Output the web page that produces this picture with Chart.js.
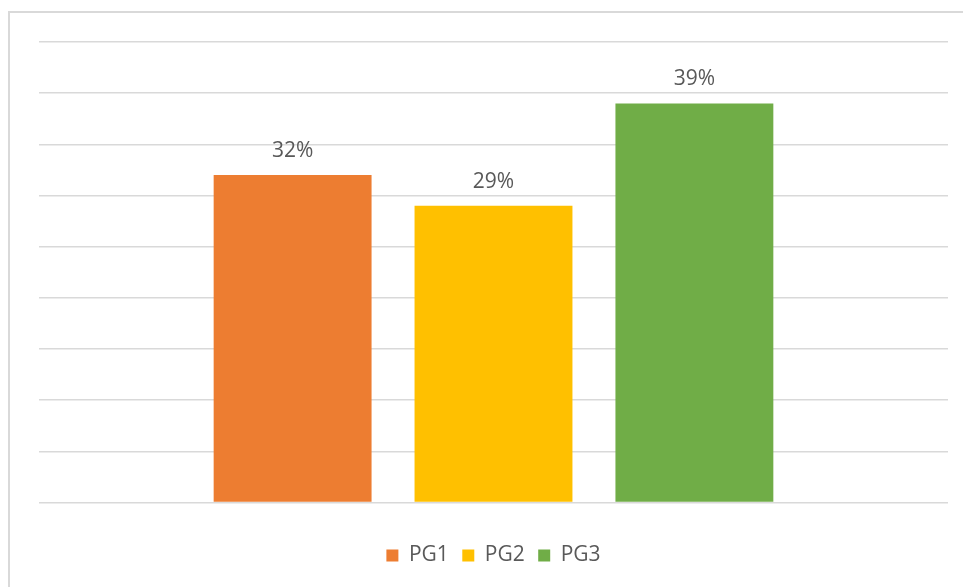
<!DOCTYPE html>
<html>
<head>
<meta charset="utf-8">
<script src="https://cdn.jsdelivr.net/npm/chart.js@4.4.1/dist/chart.umd.min.js"></script>
<style>
  html, body { margin: 0; padding: 0; background: #fff; overflow: hidden; }
  #marco { position: absolute; left: 8px; top: 11px; width: 1000px; height: 640px; border: 2px solid #d9d9d9; box-sizing: border-box; }
  #wrap { position: absolute; left: 0; top: 0; width: 963px; height: 587px; }
</style>
</head>
<body>
<div id="marco"></div>
<div id="wrap"><canvas id="grafico"></canvas></div>
<script>
// datos del grafico
const categorias = [''];
const series = ['PG1', 'PG2', 'PG3'];
const valores = [0.32, 0.29, 0.39];
const colores = ['#ED7D31', '#FFC000', '#70AD47'];
const ejeMax = 0.45;
const ejePaso = 0.05;

const fuente = "'Open Sans', 'DejaVu Sans', sans-serif";

// etiqueta de porcentaje encima de cada barra
const etiquetas = {
  id: 'etiquetas',
  afterDatasetsDraw(chart) {
    const ctx = chart.ctx;
    ctx.save();
    ctx.font = '21px ' + fuente;
    ctx.fillStyle = '#595959';
    ctx.textAlign = 'center';
    ctx.textBaseline = 'alphabetic';
    chart.data.datasets.forEach(function(ds, i) {
      chart.getDatasetMeta(i).data.forEach(function(bar, j) {
        const txt = Math.round(ds.data[j] * 100) + '%';
        ctx.fillText(txt, bar.x, bar.y - 18);
      });
    });
    ctx.restore();
  }
};

new Chart(document.getElementById('grafico'), {
  type: 'bar',
  data: {
    labels: categorias,
    datasets: series.map(function(s, i) {
      return { label: s, data: [valores[i]], backgroundColor: colores[i], categoryPercentage: 0.663, barPercentage: 0.786 };
    })
  },
  options: {
    responsive: true,
    maintainAspectRatio: false,
    animation: false,
    layout: { padding: { left: 39, right: 15, top: 42, bottom: 11 } },
    scales: {
      x: { display: false },
      y: {
        min: 0, max: ejeMax,
        ticks: { display: false, stepSize: ejePaso },
        border: { display: false },
        grid: { color: '#d9d9d9', lineWidth: 1.5, drawTicks: false }
      }
    },
    plugins: {
      tooltip: { enabled: false },
      legend: {
        position: 'bottom',
        // titulo vacio: solo deja aire entre el eje y la leyenda
        title: { display: true, text: '', padding: 0, font: { size: 20, lineHeight: 1.45 } },
        labels: { boxWidth: 12, boxHeight: 12, padding: 13.5, color: '#595959', font: { family: fuente, size: 21 } }
      }
    }
  },
  plugins: [etiquetas]
});
</script>
</body>
</html>
